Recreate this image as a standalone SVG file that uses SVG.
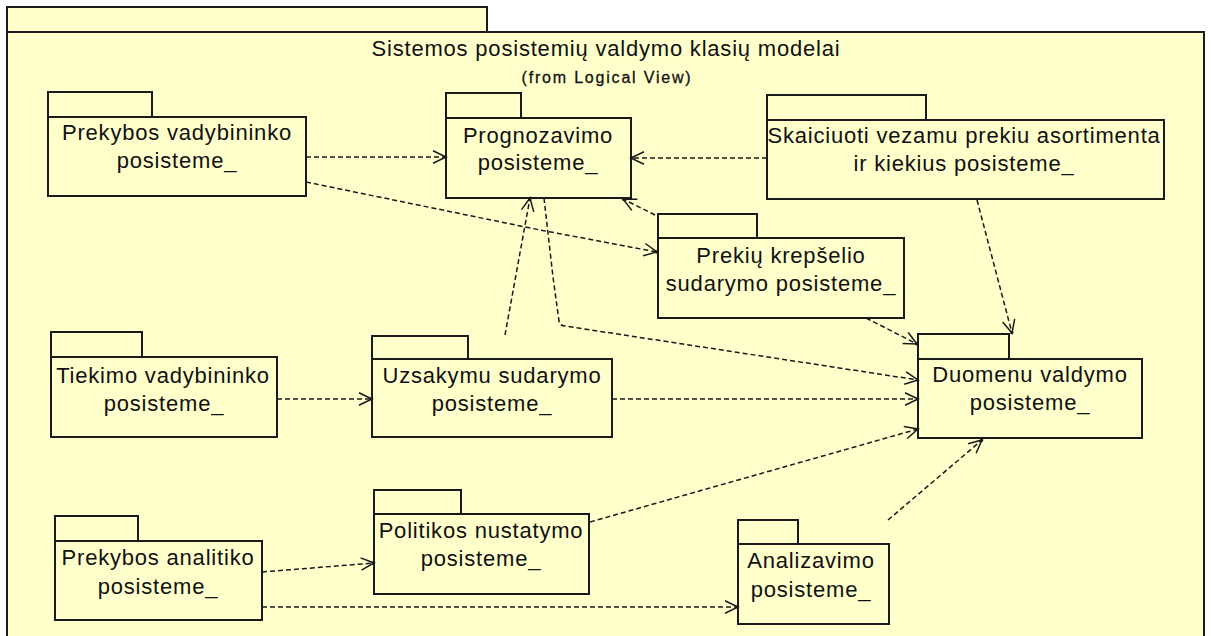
<svg xmlns="http://www.w3.org/2000/svg" width="1211" height="636" viewBox="0 0 1211 636">
  <style>
    .pkg { fill: #FFFFCC; stroke: #1a1a1a; stroke-width: 2; }
    .lbl { font-family: "Liberation Sans", Arial, sans-serif; font-size: 22px; letter-spacing: 0.8px; fill: #111; text-anchor: middle; }
    .sub { font-family: "Liberation Sans", Arial, sans-serif; font-size: 16px; letter-spacing: 1.8px; fill: #111; stroke: #111; stroke-width: 0.3; text-anchor: middle; }
    .dep { fill: none; stroke: #1a1a1a; stroke-width: 1.5; stroke-dasharray: 5 3; marker-end: url(#open); }
  </style>
  <defs>
    <marker id="open" markerUnits="userSpaceOnUse" markerWidth="18" markerHeight="16" refX="15" refY="8" orient="auto" overflow="visible">
      <path d="M2,1.8 L15,8 L2,14.2" fill="none" stroke="#1a1a1a" stroke-width="1.5" stroke-dasharray="none"/>
      <circle cx="14.5" cy="8" r="1.7" fill="#1a1a1a"/>
    </marker>
  </defs>

  <rect x="0" y="0" width="1211" height="636" fill="#ffffff"/>

  <!-- enclosing package -->
  <g id="pkg-root">
    <rect class="pkg" x="7" y="7" width="480" height="25"/>
    <rect class="pkg" x="7" y="32" width="1197" height="620"/>
    <text class="lbl" x="606" y="56">Sistemos posistemių valdymo klasių modelai</text>
    <text class="sub" x="607" y="83">(from Logical View)</text>
  </g>

  <!-- sub-packages -->
  <g id="prekybos-vadybininko">
    <rect class="pkg" x="48" y="92" width="104" height="25"/>
    <rect class="pkg" x="48" y="117" width="258" height="79"/>
    <text class="lbl" x="177" y="140">Prekybos vadybininko</text>
    <text class="lbl" x="177" y="168">posisteme_</text>
  </g>

  <g id="prognozavimo">
    <rect class="pkg" x="446" y="93" width="75" height="25"/>
    <rect class="pkg" x="446" y="118" width="185" height="80"/>
    <text class="lbl" x="538" y="143">Prognozavimo</text>
    <text class="lbl" x="538" y="170">posisteme_</text>
  </g>

  <g id="skaiciuoti">
    <rect class="pkg" x="767" y="95" width="159" height="25"/>
    <rect class="pkg" x="767" y="120" width="397" height="79"/>
    <text class="lbl" x="964" y="143">Skaiciuoti vezamu prekiu asortimenta</text>
    <text class="lbl" x="964" y="171">ir kiekius posisteme_</text>
  </g>

  <g id="prekiu-krepselio">
    <rect class="pkg" x="658" y="214" width="99" height="24"/>
    <rect class="pkg" x="658" y="238" width="246" height="80"/>
    <text class="lbl" x="781" y="263">Prekių krepšelio</text>
    <text class="lbl" x="781" y="291">sudarymo posisteme_</text>
  </g>

  <g id="duomenu-valdymo">
    <rect class="pkg" x="918" y="334" width="91" height="25"/>
    <rect class="pkg" x="918" y="359" width="224" height="79"/>
    <text class="lbl" x="1030" y="382">Duomenu valdymo</text>
    <text class="lbl" x="1030" y="410">posisteme_</text>
  </g>

  <g id="tiekimo-vadybininko">
    <rect class="pkg" x="51" y="332" width="91" height="25"/>
    <rect class="pkg" x="51" y="357" width="226" height="80"/>
    <text class="lbl" x="163" y="383">Tiekimo vadybininko</text>
    <text class="lbl" x="164" y="411">posisteme_</text>
  </g>

  <g id="uzsakymu-sudarymo">
    <rect class="pkg" x="372" y="336" width="96" height="23"/>
    <rect class="pkg" x="372" y="359" width="240" height="78"/>
    <text class="lbl" x="492" y="383">Uzsakymu sudarymo</text>
    <text class="lbl" x="492" y="411">posisteme_</text>
  </g>

  <g id="politikos-nustatymo">
    <rect class="pkg" x="374" y="490" width="87" height="24"/>
    <rect class="pkg" x="374" y="514" width="215" height="80"/>
    <text class="lbl" x="481" y="538">Politikos nustatymo</text>
    <text class="lbl" x="481" y="566">posisteme_</text>
  </g>

  <g id="prekybos-analitiko">
    <rect class="pkg" x="55" y="516" width="83" height="25"/>
    <rect class="pkg" x="55" y="541" width="207" height="79"/>
    <text class="lbl" x="158" y="565">Prekybos analitiko</text>
    <text class="lbl" x="158" y="594">posisteme_</text>
  </g>

  <g id="analizavimo">
    <rect class="pkg" x="738" y="520" width="60" height="24"/>
    <rect class="pkg" x="738" y="544" width="151" height="80"/>
    <text class="lbl" x="811" y="568">Analizavimo</text>
    <text class="lbl" x="811" y="597">posisteme_</text>
  </g>

  <!-- dependencies -->
  <g id="connectors">
    <path class="dep" d="M306,157 L446,157"/>
    <path class="dep" d="M306,182 L540,230 L657,252"/>
    <path class="dep" d="M767,158 L631,158"/>
    <path class="dep" d="M655,215 L623,199"/>
    <path class="dep" d="M505,335 L530,198"/>
    <path class="dep" d="M544,198 L553,277 L559,321 Q560,326 565,326 L918,380"/>
    <path class="dep" d="M977,200 L1012,333"/>
    <path class="dep" d="M866,318 L917,344"/>
    <path class="dep" d="M612,399 L918,399"/>
    <path class="dep" d="M590,522 L918,429"/>
    <path class="dep" d="M888,520 L982,440"/>
    <path class="dep" d="M277,399 L372,399"/>
    <path class="dep" d="M262,572 L374,563"/>
    <path class="dep" d="M262,607 L738,607"/>
  </g>
</svg>
